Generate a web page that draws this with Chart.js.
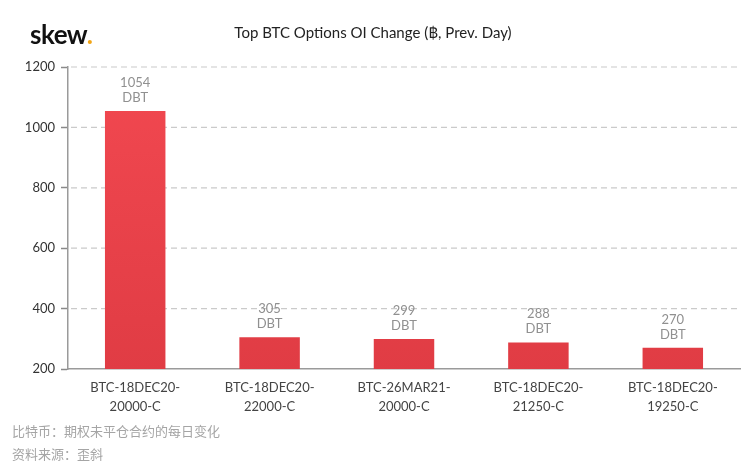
<!DOCTYPE html>
<html>
<head>
<meta charset="utf-8">
<script src="https://cdn.jsdelivr.net/npm/chart.js@4"></script>
<style>
  body { margin: 0; background: #fff; font-family: Lato, sans-serif; }
  #wrap { position: relative; width: 750px; height: 470px; }
  #logo { position: absolute; left: 30px; top: 18px; font: bold 26px Lato, sans-serif; color: #111; letter-spacing: -0.5px; }
  #logo span { color: #f2a516; }
  #title { position: absolute; left: 0; width: 746px; top: 23px; text-align: center; font: 15px Lato, sans-serif; color: #222; }
  #chartBox { position: absolute; left: 0; top: 0; width: 750px; height: 426px; }
  .note { position: absolute; left: 12px; font: 13px "Noto Sans CJK SC", sans-serif; color: #a5a5a5; }
</style>
</head>
<body>
<div id="wrap">
  <div id="chartBox"><canvas id="chart"></canvas></div>
  <div id="logo">skew<span>.</span></div>
  <div id="title">Top BTC Options OI Change (฿, Prev. Day)</div>
  <div class="note" style="top:421px">比特币：期权未平仓合约的每日变化</div>
  <div class="note" style="top:444px">资料来源：歪斜</div>
</div>
<script>
const contracts = [
  ['BTC-18DEC20-', '20000-C'],
  ['BTC-18DEC20-', '22000-C'],
  ['BTC-26MAR21-', '20000-C'],
  ['BTC-18DEC20-', '21250-C'],
  ['BTC-18DEC20-', '19250-C']
];
const oiChange = [1054, 305, 299, 288, 270];
const yTicks = [200, 400, 600, 800, 1000, 1200];

// dashed horizontal grid lines behind the bars
const dashedGrid = {
  id: 'dashedGrid',
  beforeDatasetsDraw(chart) {
    const { ctx, chartArea, scales } = chart;
    ctx.save();
    ctx.strokeStyle = '#cacaca';
    ctx.lineWidth = 1.2;
    ctx.setLineDash([6, 4]);
    yTicks.slice(1).forEach(v => {
      const y = scales.y.getPixelForValue(v);
      ctx.beginPath();
      ctx.moveTo(chartArea.left + 3, y);
      ctx.lineTo(chartArea.right, y);
      ctx.stroke();
    });
    ctx.restore();
  }
};

// value + unit above each bar
const barLabels = {
  id: 'barLabels',
  afterDatasetsDraw(chart) {
    const ctx = chart.ctx;
    const meta = chart.getDatasetMeta(0);
    ctx.save();
    ctx.fillStyle = '#909090';
    ctx.font = '13px Lato, sans-serif';
    ctx.textAlign = 'center';
    meta.data.forEach((bar, i) => {
      ctx.fillText(String(oiChange[i]), bar.x, bar.y - 24);
      ctx.fillText('DBT', bar.x, bar.y - 9);
    });
    ctx.restore();
  }
};

const ctx = document.getElementById('chart').getContext('2d');
const grad = ctx.createLinearGradient(0, 100, 0, 370);
grad.addColorStop(0, '#f0474f');
grad.addColorStop(1, '#e03c44');

new Chart(ctx, {
  type: 'bar',
  data: {
    labels: contracts,
    datasets: [{
      data: oiChange,
      backgroundColor: grad,
      borderWidth: 0,
      categoryPercentage: 0.9,
      barPercentage: 0.5
    }]
  },
  plugins: [dashedGrid, barLabels],
  options: {
    responsive: true,
    maintainAspectRatio: false,
    animation: false,
    layout: { padding: { top: 67, right: 10, left: 13, bottom: 0 } },
    plugins: {
      legend: { display: false },
      tooltip: { enabled: false }
    },
    scales: {
      x: {
        grid: { display: false, drawTicks: false },
        border: { display: true, color: '#9a9a9a', width: 1.5 },
        ticks: { color: '#444', font: { family: 'Lato', size: 13, lineHeight: 1.5 }, padding: 9, maxRotation: 0 }
      },
      y: {
        min: 200,
        max: 1200,
        afterBuildTicks(axis) { axis.ticks = yTicks.map(v => ({ value: v })); },
        afterFit(axis) { axis.width = 55; },
        grid: {
          drawOnChartArea: false,
          tickLength: 7,
          tickColor: '#8a8a8a',
          tickWidth: 1.5
        },
        border: { display: true, color: '#9a9a9a', width: 1.5 },
        ticks: {
          color: '#333',
          font: { family: 'Lato', size: 13 },
          padding: 6,
          callback: v => String(v)
        }
      }
    }
  }
});
</script>
</body>
</html>
